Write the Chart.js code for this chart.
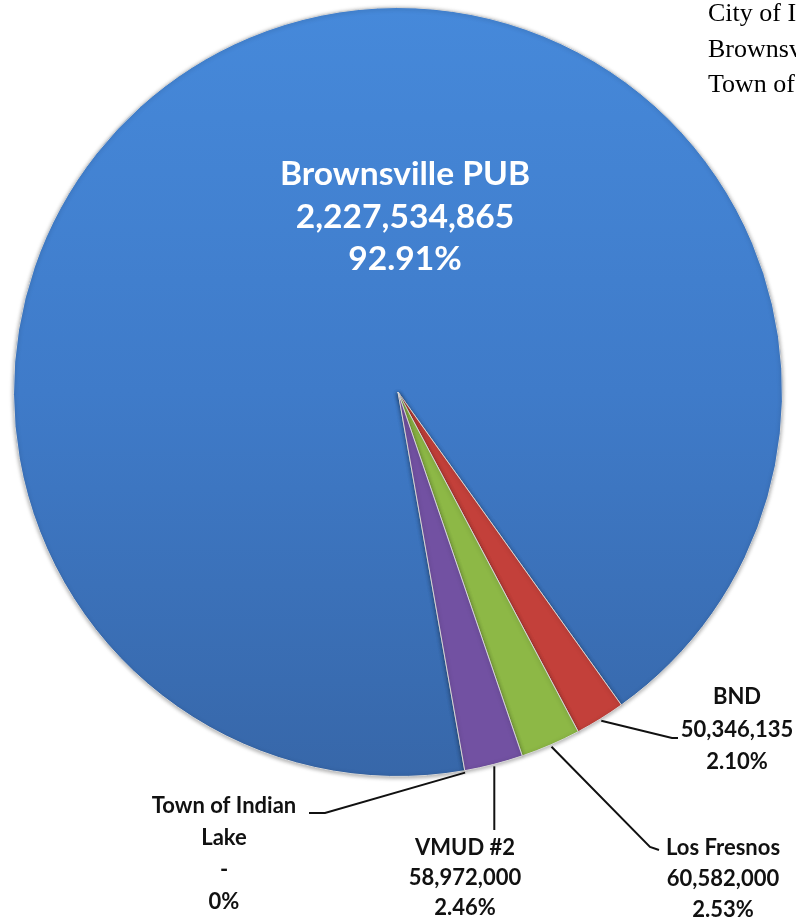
<!DOCTYPE html>
<html>
<head>
<meta charset="utf-8">
<script src="https://cdn.jsdelivr.net/npm/chart.js@4"></script>
<style>
  html, body { margin: 0; padding: 0; background: #fff; }
  body { width: 796px; height: 920px; overflow: hidden; position: relative; }
  #docText {
    position: absolute; left: 708px; top: -5px; width: 88px; overflow: hidden;
    font-family: "Liberation Serif", "Times New Roman", serif; font-size: 26px;
    line-height: 35.5px; white-space: nowrap; color: #000;
  }
</style>
</head>
<body>
<canvas id="pieChart" width="796" height="920"></canvas>
<div id="docText">City of Indian Lake<br>Brownsville PUB<br>Town of Indian Lake</div>
<script>
// data
const categories = ["Brownsville PUB", "BND", "Los Fresnos", "VMUD #2", "Town of Indian Lake"];
const usage = [2227534865, 50346135, 60582000, 58972000, 0];
const sliceColors = ["#3f7bc9", "#c3403a", "#8db846", "#7251a2"];
const blueTop = "#4689da";
const blueBottom = "#3767a9";

// label layout, offsets from the pie centre
const labelSpots = {
    "Brownsville PUB": { dx: 7, dy: -217, lineH: 42.5, inside: true },
    "BND": { dx: 339, dy: 305, lineH: 32.5, leader: [[274, 346], [280, 346]] },
    "Los Fresnos": { dx: 325, dy: 456, lineH: 31, leader: [[252, 455], [261, 458]] },
    "VMUD #2": { dx: 67, dy: 456, lineH: 30, leader: [[null, 438]] },
    "Town of Indian Lake": { dx: -174, dy: 414, lineH: 32, leader: [[-73, 421], [-89, 421]] }
};

const total = usage.reduce((a, b) => a + b, 0);

function labelLines(ctx, i, wrap) {
    const name = categories[i];
    const lines = [];
    if (wrap) {
        let cur = "";
        name.split(" ").forEach(w => {
            const test = cur ? cur + " " + w : w;
            if (ctx.measureText(test).width > 170 && cur) {
                lines.push(cur);
                cur = w;
            } else {
                cur = test;
            }
        });
        lines.push(cur);
    } else {
        lines.push(name);
    }
    const v = usage[i];
    lines.push(v === 0 ? "-" : v.toLocaleString("en-US"));
    const pct = v / total * 100;
    lines.push(v === 0 ? "0%" : pct.toFixed(2) + "%");
    return lines;
}

const shadowPlugin = {
    id: "sliceShadow",
    beforeDatasetsDraw(chart) {
        const ctx = chart.ctx;
        ctx.save();
        ctx.shadowColor = "rgba(0,0,0,0.35)";
        ctx.shadowBlur = 4;
        ctx.shadowOffsetX = 0;
        ctx.shadowOffsetY = 1;
    },
    afterDatasetsDraw(chart) {
        chart.ctx.restore();
    }
};

const labelPlugin = {
    id: "pieLabels",
    afterDraw(chart) {
        const ctx = chart.ctx;
        const arcs = chart.getDatasetMeta(0).data;
        const cx = arcs[0].x;
        const cy = arcs[0].y;
        ctx.save();
        ctx.textAlign = "center";
        ctx.textBaseline = "middle";
        categories.forEach((name, i) => {
            const spot = labelSpots[name];
            const arc = arcs[i];
            let sx = 1;
            if (spot.inside) {
                ctx.font = "bold 32px Lato, 'Open Sans', sans-serif";
                ctx.fillStyle = "#ffffff";
                sx = 1.05;
            } else {
                ctx.font = "bold 22px Lato, 'Open Sans', sans-serif";
                ctx.fillStyle = "#111111";
                // leader line from the slice edge
                const ang = usage[i] === 0 ? arc.startAngle : (arc.startAngle + arc.endAngle) / 2;
                const r = arc.outerRadius + 2;
                const px0 = cx + Math.cos(ang) * r;
                const py0 = cy + Math.sin(ang) * r;
                ctx.beginPath();
                ctx.strokeStyle = "#111111";
                ctx.lineWidth = 2;
                ctx.moveTo(px0, py0);
                spot.leader.forEach(p => {
                    const px = p[0] === null ? px0 : cx + p[0];
                    ctx.lineTo(px, cy + p[1]);
                });
                ctx.stroke();
            }
            const lines = labelLines(ctx, i, !spot.inside);
            lines.forEach((ln, k) => {
                ctx.save();
                ctx.translate(cx + spot.dx, cy + spot.dy + k * spot.lineH);
                ctx.scale(sx, 1);
                ctx.fillText(ln, 0, 0);
                ctx.restore();
            });
        });
        ctx.restore();
    }
};

new Chart(document.getElementById("pieChart"), {
    type: "pie",
    data: {
        labels: categories,
        datasets: [{
            data: usage,
            backgroundColor: (c) => {
                const area = c.chart.chartArea;
                if (c.dataIndex === 0 && area) {
                    const g = c.chart.ctx.createLinearGradient(0, area.top, 0, area.bottom);
                    g.addColorStop(0, blueTop);
                    g.addColorStop(0.5, sliceColors[0]);
                    g.addColorStop(1, blueBottom);
                    return g;
                }
                return sliceColors[c.dataIndex % sliceColors.length];
            },
            borderColor: "#d6d6d6",
            borderWidth: 1
        }]
    },
    options: {
        responsive: false,
        animation: false,
        rotation: 170,
        layout: { padding: { left: 13, right: 13, top: 7, bottom: 143 } },
        plugins: {
            legend: { display: false },
            tooltip: { enabled: false }
        }
    },
    plugins: [shadowPlugin, labelPlugin]
});
</script>
</body>
</html>
